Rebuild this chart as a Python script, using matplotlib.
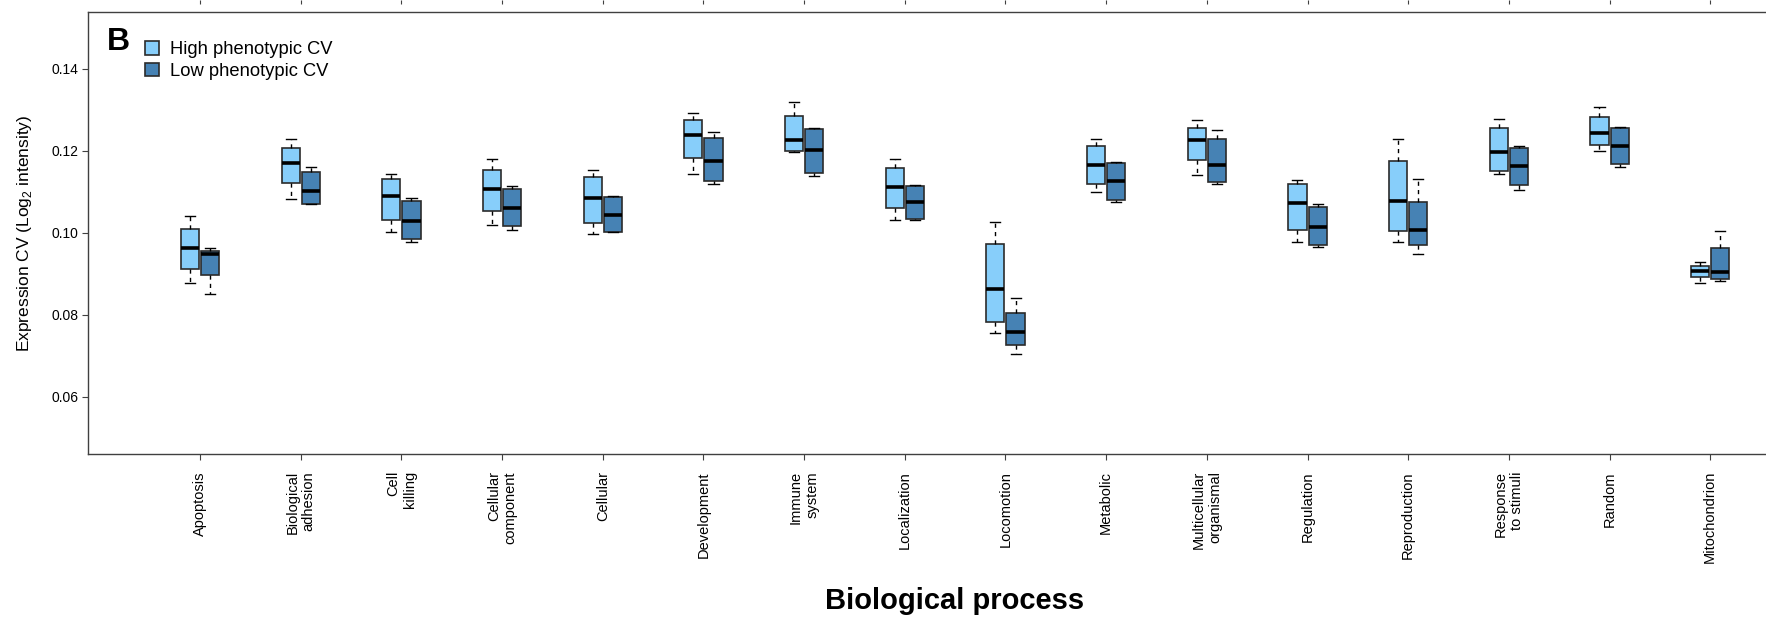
import matplotlib
matplotlib.use("Agg")
import matplotlib.pyplot as plt
from matplotlib.patches import Patch

plt.rcParams['font.family'] = ['Liberation Sans', 'DejaVu Sans']
plt.rcParams['mathtext.fontset'] = 'custom'
plt.rcParams['mathtext.rm'] = 'Liberation Sans'

processes = ["Apoptosis", "Biological\nadhesion", "Cell\nkilling", "Cellular\ncomponent",
             "Cellular", "Development", "Immune\nsystem", "Localization", "Locomotion",
             "Metabolic", "Multicellular\norganismal", "Regulation", "Reproduction",
             "Response\nto stimuli", "Random", "Mitochondrion"]

# high phenotypic CV: lower whisker, Q1, median, Q3, upper whisker
high_lo  = [0.0878, 0.1083, 0.1003, 0.1019, 0.0998, 0.1144, 0.1197, 0.1032,
            0.0755, 0.1099, 0.1141, 0.0978, 0.0977, 0.1143, 0.1200, 0.0877]
high_q1  = [0.0912, 0.1121, 0.1031, 0.1054, 0.1023, 0.1182, 0.1200, 0.1061,
            0.0782, 0.1119, 0.1178, 0.1007, 0.1005, 0.1151, 0.1214, 0.0892]
high_med = [0.0962, 0.1171, 0.1090, 0.1107, 0.1085, 0.1238, 0.1226, 0.1112,
            0.0863, 0.1166, 0.1227, 0.1073, 0.1077, 0.1197, 0.1244, 0.0907]
high_q3  = [0.1010, 0.1208, 0.1131, 0.1153, 0.1136, 0.1275, 0.1284, 0.1157,
            0.0972, 0.1211, 0.1255, 0.1119, 0.1175, 0.1256, 0.1283, 0.0918]
high_hi  = [0.1042, 0.1230, 0.1144, 0.1181, 0.1153, 0.1293, 0.1319, 0.1179,
            0.1026, 0.1230, 0.1275, 0.1129, 0.1229, 0.1278, 0.1307, 0.0929]

# low phenotypic CV
low_lo  = [0.0851, 0.1070, 0.0978, 0.1008, 0.1002, 0.1120, 0.1138, 0.1031,
           0.0703, 0.1075, 0.1119, 0.0965, 0.0949, 0.1105, 0.1161, 0.0882]
low_q1  = [0.0897, 0.1070, 0.0984, 0.1017, 0.1002, 0.1126, 0.1146, 0.1034,
           0.0726, 0.1081, 0.1124, 0.0969, 0.0971, 0.1116, 0.1167, 0.0887]
low_med = [0.0949, 0.1103, 0.1030, 0.1061, 0.1044, 0.1175, 0.1203, 0.1074,
           0.0757, 0.1127, 0.1166, 0.1014, 0.1006, 0.1164, 0.1213, 0.0904]
low_q3  = [0.0956, 0.1149, 0.1078, 0.1106, 0.1088, 0.1232, 0.1253, 0.1114,
           0.0803, 0.1170, 0.1228, 0.1062, 0.1076, 0.1206, 0.1255, 0.0962]
low_hi  = [0.0962, 0.1161, 0.1085, 0.1115, 0.1091, 0.1245, 0.1255, 0.1117,
           0.0841, 0.1172, 0.1252, 0.1070, 0.1131, 0.1213, 0.1258, 0.1005]

high_color = "#87CEFA"
low_color = "#4682B4"
edge = "#2b2b2b"


def make_stats(lo, q1, med, q3, hi):
    return [{"whislo": a, "q1": b, "med": c, "q3": d, "whishi": e, "fliers": []}
            for a, b, c, d, e in zip(lo, q1, med, q3, hi)]


W, H = 1766, 618
fig = plt.figure(figsize=(W / 100, H / 100), dpi=100)
# axes runs past the right edge of the figure
ax = fig.add_axes([88 / W, 1 - 454 / H, (1822 - 88) / W, (454 - 12) / H])

pos = list(range(len(processes)))
common = dict(widths=0.18, capwidths=0.1, patch_artist=True, manage_ticks=False,
              medianprops=dict(color="black", linewidth=2.6, solid_capstyle="butt"),
              whiskerprops=dict(color="black", linewidth=1.0, linestyle=(0, (3, 3))),
              capprops=dict(color="black", linewidth=1.0))

ax.bxp(make_stats(high_lo, high_q1, high_med, high_q3, high_hi),
       positions=[p - 0.1 for p in pos],
       boxprops=dict(facecolor=high_color, edgecolor=edge, linewidth=1.2), **common)
ax.bxp(make_stats(low_lo, low_q1, low_med, low_q3, low_hi),
       positions=[p + 0.1 for p in pos],
       boxprops=dict(facecolor=low_color, edgecolor=edge, linewidth=1.2), **common)

ax.set_xlim(-1.113, 16.11)
ax.set_ylim(0.046, 0.1539)
ax.set_yticks([0.06, 0.08, 0.10, 0.12, 0.14])
ax.set_xticks(pos)
ax.set_xticklabels(processes, rotation=90, ha="center", va="top",
                   multialignment="right", fontsize=10.5)
ax.tick_params(axis="y", labelsize=10, length=4.3, pad=2.7, color="#404040")
ax.tick_params(axis="x", length=4.3, pad=8, color="#404040")
for s in ax.spines.values():
    s.set_color("#404040")
    s.set_linewidth(1.0)

ax.set_ylabel(r"Expression CV (Log$_{\mathregular{2}}$ intensity)", fontsize=12.5)
ax.yaxis.set_label_coords(-0.031, 0.5)
ax.set_xlabel("Biological process", fontsize=21, fontweight="bold")
ax.xaxis.set_label_coords(0.5, -0.30)

# tick stubs of the panel above
top = ax.secondary_xaxis(1 + 12 / 442)
top.set_xticks(pos, labels=[""] * len(pos))
top.tick_params(direction="in", length=3, color="#404040")
for s in top.spines.values():
    s.set_visible(False)

handles = [Patch(facecolor=high_color, edgecolor=edge, linewidth=1.2, label="High phenotypic CV"),
           Patch(facecolor=low_color, edgecolor=edge, linewidth=1.2, label="Low phenotypic CV")]
fig.legend(handles=handles, loc="upper left", bbox_to_anchor=(145 / W, 1 - 41 / H),
           frameon=False, fontsize=13.2, borderpad=0, borderaxespad=0,
           handlelength=0.76, handleheight=0.76, handletextpad=0.62, labelspacing=0.26)

fig.text(107 / W, 1 - 50 / H, "B", fontsize=23, fontweight="bold", va="baseline")

fig.savefig("out.png", dpi=100)
